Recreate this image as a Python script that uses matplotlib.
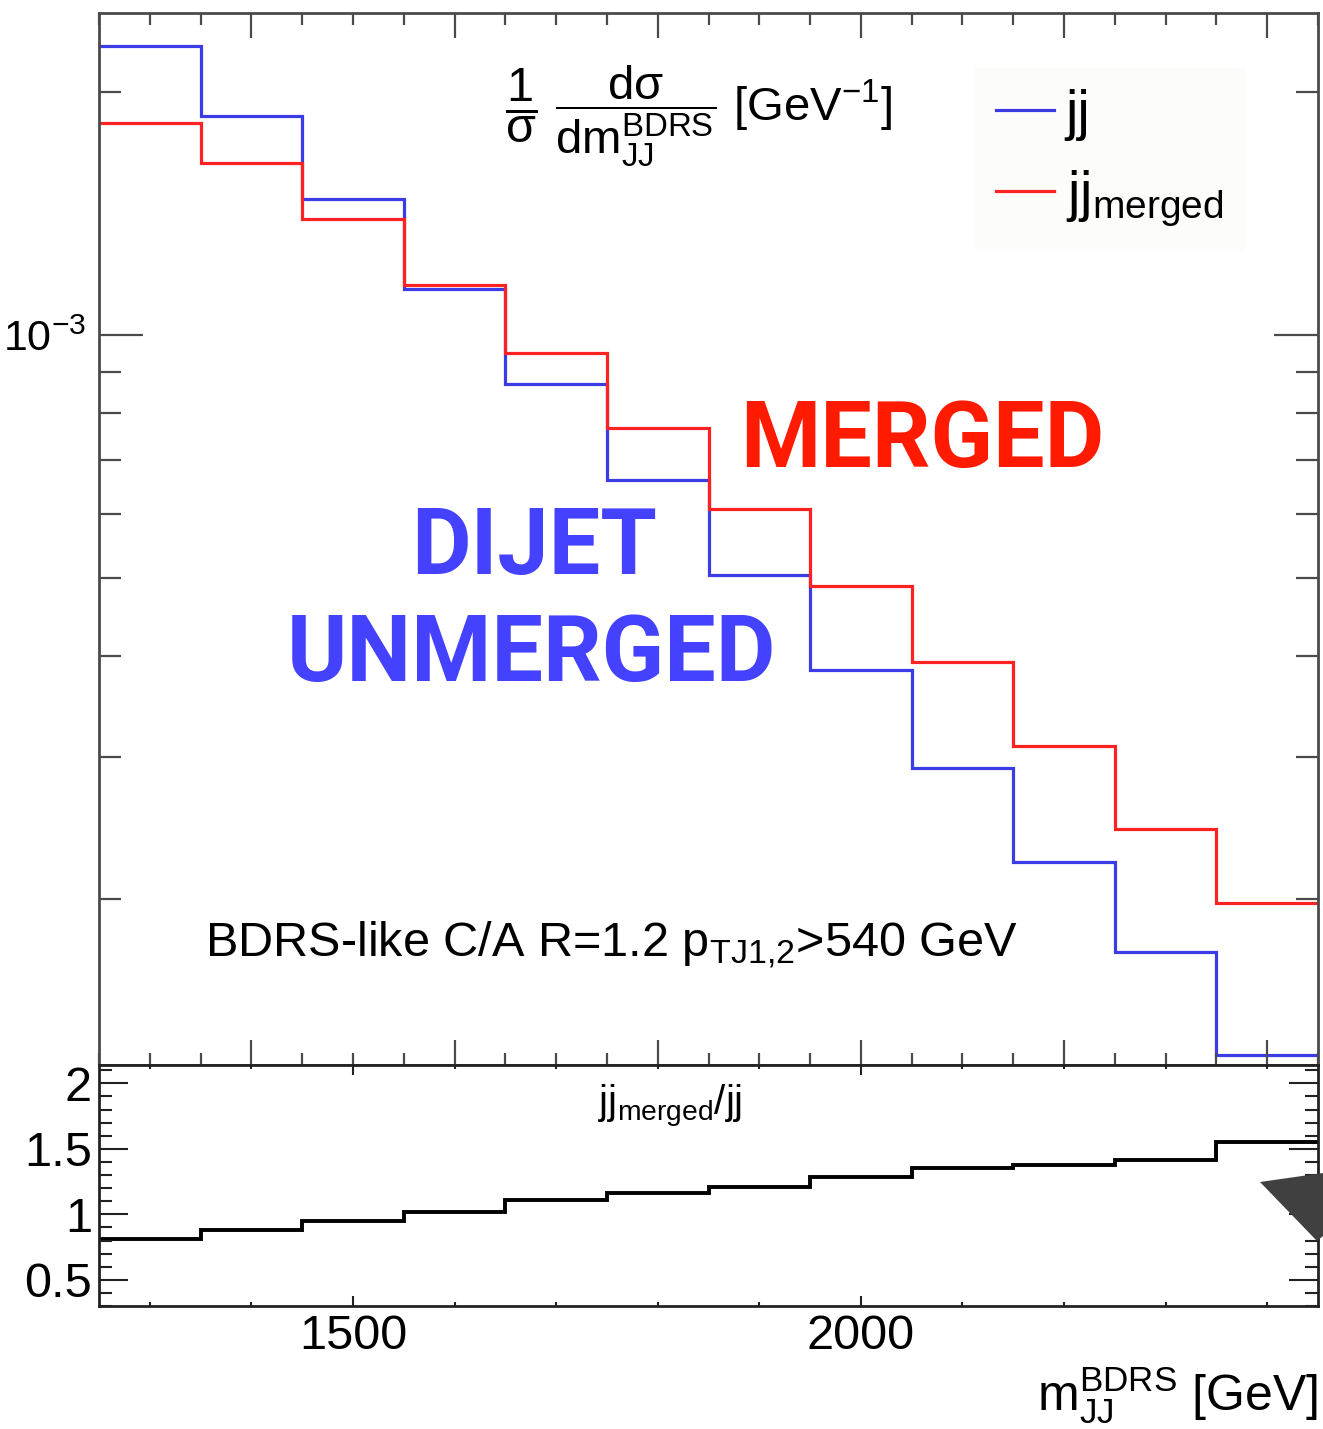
import numpy as np
import matplotlib
matplotlib.use("Agg")
import matplotlib.pyplot as plt
from matplotlib.ticker import FixedLocator, NullFormatter, FixedFormatter, MultipleLocator
from matplotlib.patches import Polygon
from matplotlib import font_manager

# ---------------- data ----------------
bin_edges = [1250, 1350, 1450, 1550, 1650, 1750, 1850, 1950, 2050, 2150, 2250, 2350, 2450]
jj_values = [2.28e-3, 1.868e-3, 1.474e-3, 1.141e-3, 8.70e-4, 6.61e-4, 5.04e-4,
             3.84e-4, 2.906e-4, 2.223e-4, 1.719e-4, 1.281e-4]
jj_merged_values = [1.830e-3, 1.635e-3, 1.392e-3, 1.152e-3, 9.51e-4, 7.67e-4, 6.09e-4,
                    4.89e-4, 3.93e-4, 3.10e-4, 2.44e-4, 1.98e-4]
ratio_values = [0.815, 0.877, 0.946, 1.02, 1.11, 1.16, 1.21, 1.285, 1.35, 1.38, 1.415, 1.55]
series_labels = ["jj", r"jj$_{merged}$"]
ratio_label = r"jj$_{merged}$/jj"
main_ytick_major = [1e-3]
main_ytick_major_labels = [r"$10^{-3}$"]
main_ytick_minor = [2e-4, 3e-4, 4e-4, 5e-4, 6e-4, 7e-4, 8e-4, 9e-4, 2e-3]
ratio_xticks = [1500, 2000]
ratio_xtick_labels = ["1500", "2000"]
ratio_yticks = [0.5, 1, 1.5, 2]
ratio_ytick_labels = ["0.5", "1", "1.5", "2"]

# ---------------- style ----------------
names = {f.name for f in font_manager.fontManager.ttflist}
root_font = "Liberation Sans" if "Liberation Sans" in names else "DejaVu Sans"
big_font = "Roboto" if "Roboto" in names else "DejaVu Sans"

plt.rcParams["font.family"] = [root_font, "DejaVu Sans"]
plt.rcParams["mathtext.fontset"] = "custom"
plt.rcParams["mathtext.rm"] = root_font
plt.rcParams["mathtext.it"] = root_font
plt.rcParams["mathtext.sf"] = root_font
plt.rcParams["mathtext.bf"] = root_font + ":bold"
plt.rcParams["mathtext.default"] = "regular"

W, H = 1323, 1429
fig = plt.figure(figsize=(W / 100, H / 100), dpi=100)

def fx(px):
    return px / W

def fy(py):
    return 1 - py / H

L, R = 99, 1318
T_main, B_main, B_ratio = 13, 1065, 1306
ax = fig.add_axes([fx(L), fy(B_main), fx(R) - fx(L), (B_main - T_main) / H])
axr = fig.add_axes([fx(L), fy(B_ratio), fx(R) - fx(L), (B_ratio - B_main) / H])

blue = "#3c3ce6"
red = "#ff2222"
frame_col = "#4a4a4a"

ax.stairs(jj_values, bin_edges, baseline=None, color=blue, lw=2.3, label=series_labels[0])
ax.stairs(jj_merged_values, bin_edges, baseline=None, color=red, lw=2.3, label=series_labels[1])
ax.set_yscale("log")
ax.set_xlim(1250, 2450)
ax.set_ylim(1.246e-4, 2.506e-3)

ax.xaxis.set_major_locator(MultipleLocator(200))
ax.xaxis.set_minor_locator(MultipleLocator(50))
ax.yaxis.set_major_locator(FixedLocator(main_ytick_major))
ax.yaxis.set_major_formatter(FixedFormatter(main_ytick_major_labels))
ax.yaxis.set_minor_locator(FixedLocator(main_ytick_minor))
ax.yaxis.set_minor_formatter(NullFormatter())
ax.tick_params(which="both", direction="in", top=True, right=True, labelbottom=False,
               color=frame_col, width=1.6)
ax.tick_params(axis="x", which="major", length=18)
ax.tick_params(axis="x", which="minor", length=8.6)
ax.tick_params(axis="y", which="major", length=31.5, labelsize=31, pad=9)
ax.tick_params(axis="y", which="minor", length=15.8)
for s in ax.spines.values():
    s.set_color(frame_col)
    s.set_linewidth(2.0)

# ratio panel
axr.stairs(ratio_values, bin_edges, baseline=None, color="black", lw=2.8)
axr.set_xlim(1250, 2450)
axr.set_ylim(0.3, 2.14)
axr.xaxis.set_major_locator(FixedLocator(ratio_xticks))
axr.xaxis.set_major_formatter(FixedFormatter(ratio_xtick_labels))
axr.xaxis.set_minor_locator(MultipleLocator(100))
axr.yaxis.set_major_locator(FixedLocator(ratio_yticks))
axr.yaxis.set_major_formatter(FixedFormatter(ratio_ytick_labels))
axr.yaxis.set_minor_locator(MultipleLocator(0.1))
axr.tick_params(which="both", direction="in", top=True, right=True, color="#222222", width=1.5)
axr.tick_params(axis="x", which="major", length=7, labelsize=35, pad=6)
axr.tick_params(axis="x", which="minor", length=3)
axr.tick_params(axis="y", which="major", length=21, labelsize=35, pad=5)
axr.tick_params(axis="y", which="minor", length=9.4)
for s in axr.spines.values():
    s.set_color("#222222")
    s.set_linewidth(2.0)

# legend
leg = ax.legend(loc="upper left", bbox_to_anchor=(fx(975), fy(68)), bbox_transform=fig.transFigure,
                fontsize=40, frameon=True, fancybox=False, facecolor="#fcfcfa", edgecolor="#fcfcfa",
                handlelength=1.05, handletextpad=0.2, labelspacing=0.5, borderpad=0.38,
                borderaxespad=0)
for lh in leg.get_lines():
    lh.set_linewidth(2.3)

# y-axis formula label
fig.text(fx(505), fy(106), r"$\dfrac{1}{\sigma}$", fontsize=35, ha="left", va="center")
fig.text(fx(555), fy(116), r"$\dfrac{d\sigma}{dm_{JJ}^{BDRS}}$ [GeV$^{-1}$]",
         fontsize=34, ha="left", va="center")

# annotation
fig.text(fx(205), fy(957), r"BDRS-like C/A R=1.2 p$_{TJ1{,}2}$>540 GeV", fontsize=35,
         ha="left", va="baseline")

# ratio label
fig.text(fx(670), fy(1115), ratio_label, fontsize=29, ha="center", va="baseline")

# x-axis label
fig.text(fx(1318), fy(1410), r"m$^{BDRS}_{JJ}$ [GeV]", fontsize=36, ha="right", va="baseline")

# big coloured labels
big_kw = dict(fontsize=66, fontweight="bold", family=[big_font, "DejaVu Sans"], va="baseline", ha="center")
fig.text(fx(922), fy(467), "MERGED", color="#ff1a00", **big_kw)
fig.text(fx(534), fy(574), "DIJET", color="#4441ff", **big_kw)
fig.text(fx(531), fy(681), "UNMERGED", color="#4441ff", **big_kw)

# dark triangle overlay in the corner
tri = Polygon([(fx(1260), fy(1182)), (fx(1323), fy(1173)), (fx(1323), fy(1236)), (fx(1317), fy(1241))],
              closed=True, transform=fig.transFigure, facecolor="#404040", edgecolor="none",
              clip_on=False, zorder=10)
fig.patches.append(tri)

fig.savefig("out.png", dpi=100)
